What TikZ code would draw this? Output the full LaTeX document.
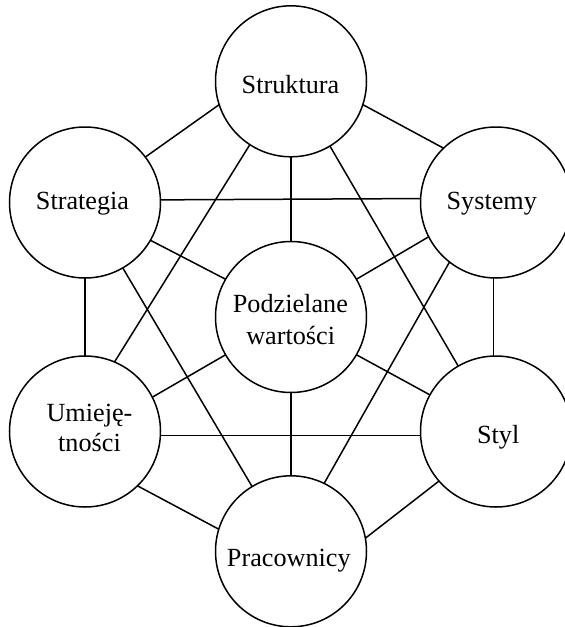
\documentclass[tikz,border=0pt]{standalone}
\usepackage{fontspec}
\setmainfont{Liberation Serif}
\begin{document}
\begin{tikzpicture}[x=1pt,y=-1pt,
  sbox/.style={circle,draw,line width=1.5pt,minimum size=151pt,inner sep=0pt,outer sep=0pt},
  lbl/.style={anchor=base,inner sep=0pt,font=\fontsize{26.2}{31}\selectfont},
  link/.style={line width=1.5pt}]
\useasboundingbox (0,0) rectangle (565,627);

% the seven elements
\node[sbox] (struktura) at (291,81.3) {};
\node[sbox] (strategia) at (85,202.5) {};
\node[sbox] (systemy)   at (496,202.5) {};
\node[sbox] (wartosci)  at (291,317) {};
\node[sbox] (umiej)     at (85,431.5) {};
\node[sbox] (styl)      at (496,431.5) {};
\node[sbox] (pracown)   at (291,551.3) {};

% labels
\node[lbl] (t-struktura) at (290.5,93.3)  {Struktura};
\node[lbl] (t-strategia) at (82.5,209.3)  {Strategia};
\node[lbl] (t-systemy)   at (491.8,209.3) {Systemy};
\node[lbl] (t-wart1)     at (290.4,312.7) {Podzielane};
\node[lbl] (t-wart2)     at (290.7,344)   {wartości};
\node[lbl] (t-umiej1)    at (89.5,421.7)  {Umieję-};
\node[lbl] (t-umiej2)    at (89.5,451.7)  {tności};
\node[lbl] (t-styl)      at (498.2,443.3) {Styl};
\node[lbl] (t-pracown)   at (288.8,566)   {Pracownicy};

% connections
\draw[link] (struktura.198)   -- (strategia.37);
\draw[link] (struktura.342.6) -- (systemy.134);
\draw[link] (struktura.270)   -- (wartosci.90);
\draw[link] (struktura.237)   -- (umiej.67);
\draw[link] (struktura.301.5) -- (styl.120.4);
\draw[link] (strategia.2.4)   -- (systemy.177.6);
\draw[link] (strategia.330)   -- (wartosci.150);
\draw[link] (strategia.270)   -- (umiej.90);
\draw[link] (strategia.300)   -- (pracown.121);
\draw[link] (systemy.207.4)   -- (wartosci.30);
\draw[link] (systemy.268)     -- (styl.92);
\draw[link] (systemy.232.6)   -- (pracown.64.7);
\draw[link] (wartosci.210.4)  -- (umiej.27.5);
\draw[link] (wartosci.330.2)  -- (styl.151.5);
\draw[link] (wartosci.270)    -- (pracown.90);
\draw[link] (umiej.-3.2)      -- (styl.183.2);
\draw[link] (umiej.314)       -- (pracown.163);
\draw[link] (styl.221)        -- (pracown.10);
\end{tikzpicture}
\end{document}
